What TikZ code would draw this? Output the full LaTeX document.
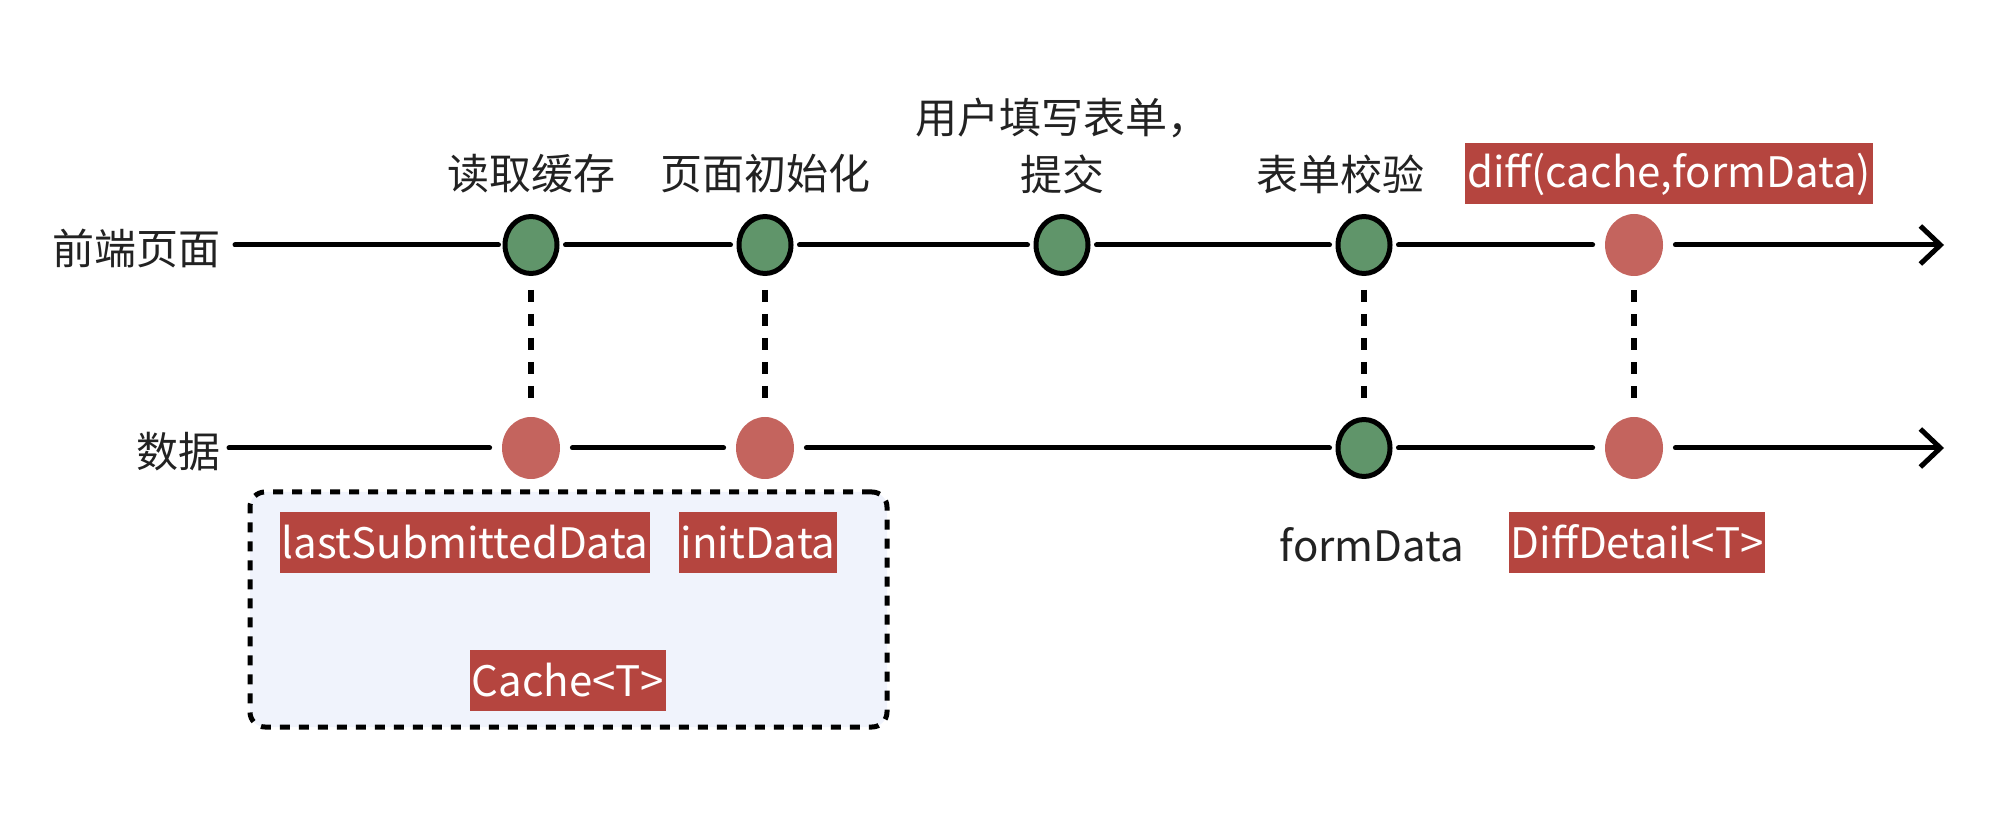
\documentclass[tikz,border=0pt]{standalone}
\usepackage{fontspec}
\setmainfont{Noto Sans CJK SC}
\usetikzlibrary{arrows.meta,shapes.geometric}
\definecolor{gfill}{RGB}{96,149,106}
\definecolor{rfill}{RGB}{196,100,94}
\definecolor{lblred}{RGB}{181,69,63}
\definecolor{boxbg}{RGB}{240,243,252}
\definecolor{txt}{RGB}{34,34,34}
\begin{document}
\begin{tikzpicture}[x=0.5pt,y=-0.5pt,
  font=\fontsize{21}{25}\selectfont, text=txt,
  gdot/.style={ellipse,draw=black,line width=2.5pt,fill=gfill,minimum width=26pt,minimum height=28.5pt,inner sep=0pt},
  rdot/.style={ellipse,fill=rfill,minimum width=29pt,minimum height=31pt,inner sep=0pt},
  tline/.style={line width=2.5pt,line cap=round},
  arr/.style={tline,line join=round,-{Straight Barb[length=10pt,width=19pt,line width=2.5pt]}},
  vdash/.style={line width=2.8pt,dash pattern=on 6pt off 6pt,shorten <=7pt,shorten >=9pt},
  redlbl/.style={fill=lblred,text=white,inner xsep=1pt,inner ysep=0pt,minimum height=30.5pt},
  plain/.style={inner sep=0pt}
]
\useasboundingbox (0,0) rectangle (1992,828);

% cache box
\node[draw=black,line width=2.5pt,dash pattern=on 5pt off 4.5pt,rounded corners=7.5pt,fill=boxbg,
  minimum width=318.5pt,minimum height=117.5pt,inner sep=0pt] (cachebox) at (568.5,609.5) {};

% row labels
\node[plain] (lfront) at (137,249) {前端页面};
\node[plain] (ldata) at (178,452) {数据};

% top row
\node[gdot] (c1) at (531,245) {};
\node[gdot] (c2) at (765,245) {};
\node[gdot] (c3) at (1062,245) {};
\node[gdot] (c4) at (1364,245) {};
\node[rdot] (c5) at (1634,245) {};
% bottom row
\node[rdot] (d1) at (531,448) {};
\node[rdot] (d2) at (765,448) {};
\node[gdot] (d4) at (1364,448) {};
\node[rdot] (d5) at (1634,448) {};

\coordinate (ts) at (235,245);
\coordinate (te) at (1944,245);
\coordinate (bs) at (229,448);
\coordinate (be) at (1944,448);

% top line
\draw[tline,shorten >=2pt] (ts) -- (c1);
\draw[tline,shorten <=3pt,shorten >=3pt] (c1) -- (c2);
\draw[tline,shorten <=3pt,shorten >=3pt] (c2) -- (c3);
\draw[tline,shorten <=3pt,shorten >=3pt] (c3) -- (c4);
\draw[tline,shorten <=3pt,shorten >=6pt] (c4) -- (c5);
\draw[arr,shorten <=6pt] (c5) -- (te);
% bottom line
\draw[tline,shorten >=6pt] (bs) -- (d1);
\draw[tline,shorten <=6pt,shorten >=6pt] (d1) -- (d2);
\draw[tline,shorten <=6pt,shorten >=3pt] (d2) -- (d4);
\draw[tline,shorten <=3pt,shorten >=6pt] (d4) -- (d5);
\draw[arr,shorten <=6pt] (d5) -- (be);

% dashed verticals
\draw[vdash] (c1) -- (d1);
\draw[vdash] (c2) -- (d2);
\draw[vdash] (c4) -- (d4);
\draw[vdash] (c5) -- (d5);

% top labels
\node[plain] (t1) at (531,174) {读取缓存};
\node[plain] (t2) at (765,174) {页面初始化};
\node[plain,align=center] (t3) at (1062,146) {用户填写表单，\\[3.5pt]提交};
\node[plain] (t4) at (1340,174) {表单校验};
\node[redlbl] (t5) at (1669,174) {diff(cache,formData)};

% bottom labels
\node[redlbl] (b1) at (465,542) {lastSubmittedData};
\node[redlbl] (b2) at (758,542) {initData};
\node[redlbl] (b3) at (568,680) {Cache<T>};
\node[plain] (b4) at (1372,545) {formData};
\node[redlbl] (b5) at (1637,542) {DiffDetail<T>};
\end{tikzpicture}
\end{document}
